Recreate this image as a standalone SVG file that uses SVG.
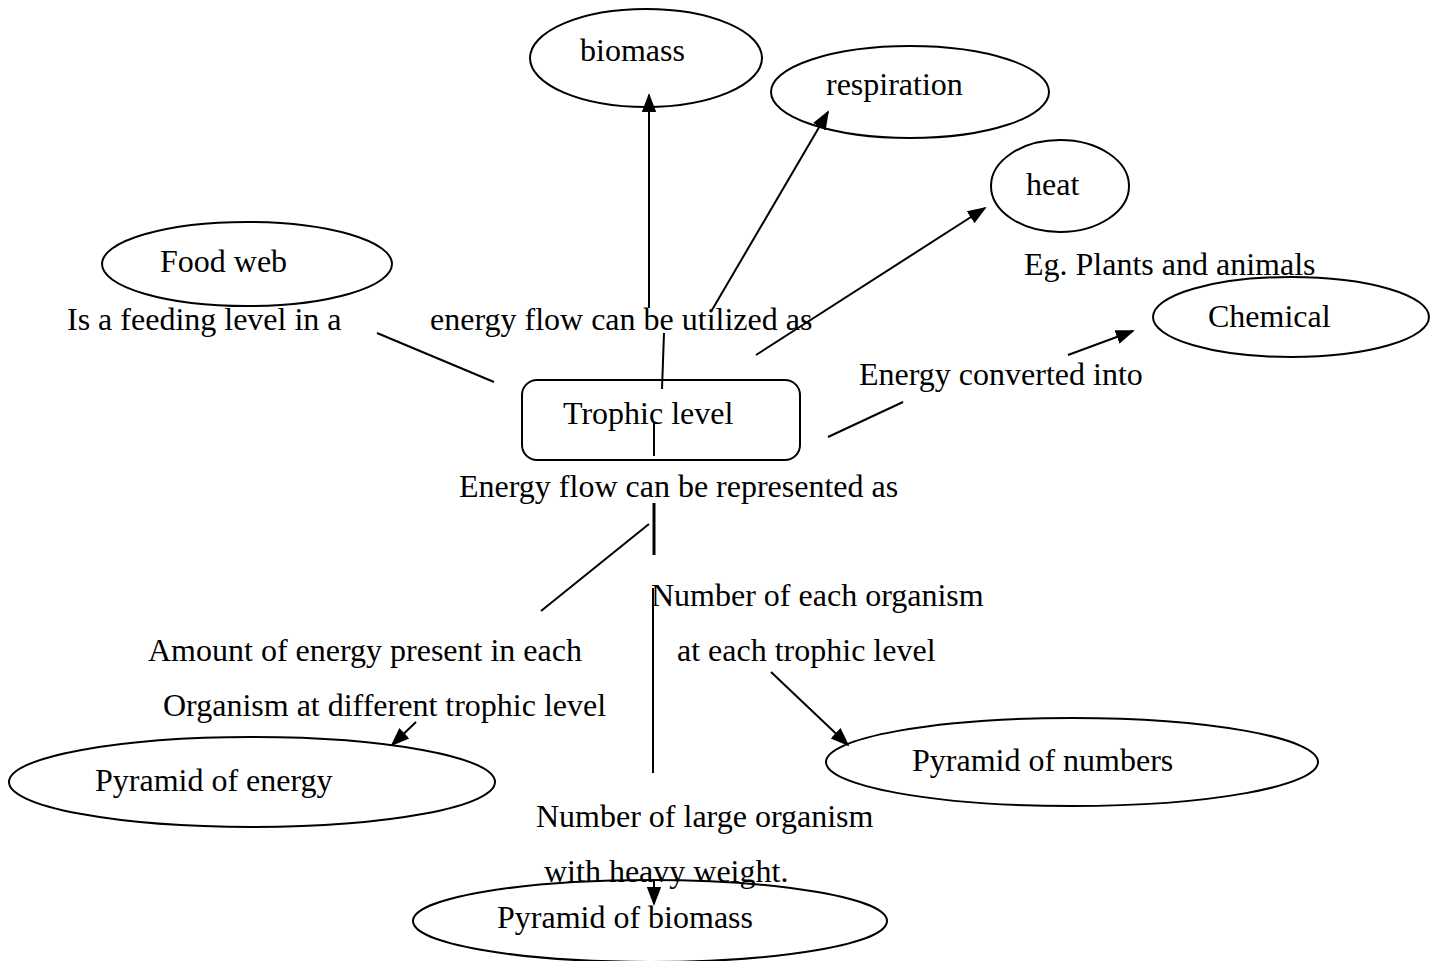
<svg xmlns="http://www.w3.org/2000/svg" width="1433" height="961" viewBox="0 0 1433 961">
  <style>
    .shape { fill: #ffffff; stroke: #000000; stroke-width: 2; }
    .lbl { font-family: "Liberation Serif", "Times New Roman", serif; font-size: 32px; fill: #000000; }
    .link { stroke: #000000; stroke-width: 2; fill: none; }
    .thick { stroke-width: 3; }
    .arrow { marker-end: url(#head); }
  </style>
  <defs>
    <marker id="head" viewBox="0 0 10 10" refX="9" refY="5" markerWidth="19" markerHeight="19" markerUnits="userSpaceOnUse" orient="auto">
      <path d="M0,1.2 L10,5 L0,8.8 z" fill="#000000"/>
    </marker>
  </defs>
  <rect width="1433" height="961" fill="#ffffff"/>

  <!-- concept nodes -->
  <g id="biomass">
    <ellipse class="shape" cx="646" cy="58" rx="116" ry="49"/>
    <text class="lbl" x="580" y="61">biomass</text>
  </g>
  <g id="respiration">
    <ellipse class="shape" cx="910" cy="92" rx="139" ry="46"/>
    <text class="lbl" x="826" y="95">respiration</text>
  </g>
  <g id="heat">
    <ellipse class="shape" cx="1060" cy="186" rx="69" ry="46"/>
    <text class="lbl" x="1026" y="195">heat</text>
  </g>
  <g id="food-web">
    <ellipse class="shape" cx="247" cy="264" rx="145" ry="42"/>
    <text class="lbl" x="160" y="272">Food web</text>
  </g>
  <g id="chemical">
    <ellipse class="shape" cx="1291" cy="317" rx="138" ry="40"/>
    <text class="lbl" x="1208" y="327">Chemical</text>
  </g>
  <g id="trophic-level">
    <rect class="shape" x="522" y="380" width="278" height="80" rx="15" ry="15"/>
    <text class="lbl" x="563" y="424">Trophic level</text>
  </g>
  <g id="pyramid-energy">
    <ellipse class="shape" cx="252" cy="782" rx="243" ry="45"/>
    <text class="lbl" x="95" y="791">Pyramid of energy</text>
  </g>
  <g id="pyramid-numbers">
    <ellipse class="shape" cx="1072" cy="762" rx="246" ry="44"/>
    <text class="lbl" x="912" y="771">Pyramid of numbers</text>
  </g>
  <g id="pyramid-biomass">
    <ellipse class="shape" cx="650" cy="921" rx="237" ry="41"/>
    <text class="lbl" x="497" y="928">Pyramid of biomass</text>
  </g>

  <!-- linking phrases -->
  <g id="phrases">
    <text class="lbl" x="1024" y="275">Eg. Plants and animals</text>
    <text class="lbl" x="67" y="330">Is a feeding level in a</text>
    <text class="lbl" x="430" y="330">energy flow can be utilized as</text>
    <text class="lbl" x="859" y="385">Energy converted into</text>
    <text class="lbl" x="459" y="497">Energy flow can be represented as</text>
    <text class="lbl" x="651" y="606">Number of each organism</text>
    <text class="lbl" x="677" y="661">at each trophic level</text>
    <text class="lbl" x="148" y="661">Amount of energy present in each</text>
    <text class="lbl" x="163" y="716">Organism at different trophic level</text>
    <text class="lbl" x="536" y="827">Number of large organism</text>
    <text class="lbl" x="544" y="882">with heavy weight.</text>
  </g>

  <!-- connectors -->
  <g id="connectors">
    <line class="link arrow" x1="649" y1="308" x2="649" y2="95"/>
    <line class="link arrow" x1="712" y1="310" x2="828" y2="112"/>
    <line class="link arrow" x1="756" y1="355" x2="985" y2="208"/>
    <line class="link" x1="664" y1="333" x2="662" y2="389"/>
    <line class="link" x1="377" y1="333" x2="494" y2="382"/>
    <line class="link" x1="654" y1="423" x2="654" y2="456"/>
    <line class="link" x1="828" y1="437" x2="903" y2="402"/>
    <line class="link arrow" x1="1068" y1="355" x2="1133" y2="331"/>
    <line class="link thick" x1="654" y1="503" x2="654" y2="555"/>
    <line class="link" x1="649" y1="524" x2="541" y2="611"/>
    <line class="link" x1="653" y1="588" x2="653" y2="773"/>
    <line class="link arrow" x1="416" y1="722" x2="392" y2="745"/>
    <line class="link arrow" x1="771" y1="672" x2="848" y2="745"/>
    <line class="link arrow" x1="654" y1="880" x2="654" y2="904"/>
  </g>
</svg>
